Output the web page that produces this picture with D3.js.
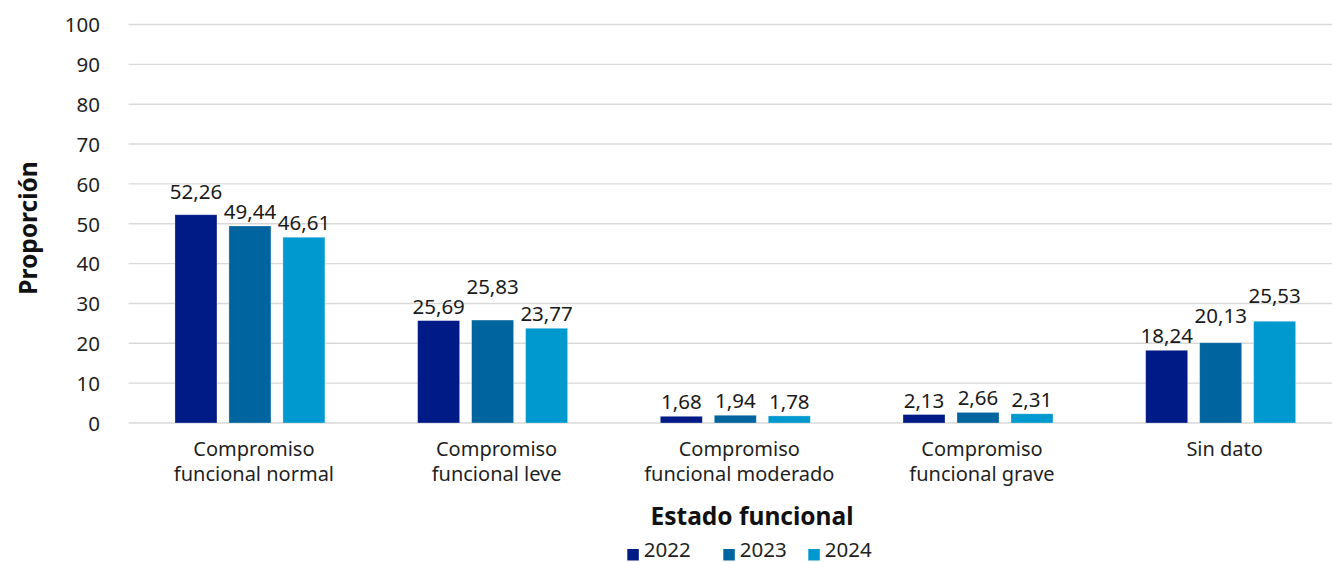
<!DOCTYPE html>
<html>
<head>
<meta charset="utf-8">
<script src="https://cdn.jsdelivr.net/npm/d3@7"></script>
<style>
  html, body { margin: 0; padding: 0; background: #fff; }
  svg { display: block; font-family: "Noto Sans", "Open Sans", sans-serif; }
</style>
</head>
<body>
<svg id="chart" width="1332" height="562"></svg>
<script>
const categories = [
  ["Compromiso", "funcional normal"],
  ["Compromiso", "funcional leve"],
  ["Compromiso", "funcional moderado"],
  ["Compromiso", "funcional grave"],
  ["Sin dato"]
];
const seriesNames = ["2022", "2023", "2024"];
const values2022 = [52.26, 25.69, 1.68, 2.13, 18.24];
const values2023 = [49.44, 25.83, 1.94, 2.66, 20.13];
const values2024 = [46.61, 23.77, 1.78, 2.31, 25.53];
const yTicks = [0, 10, 20, 30, 40, 50, 60, 70, 80, 90, 100];
const colors = ["#001a86", "#00659e", "#0099cf"];
const yTitle = "Proporción";
const xTitle = "Estado funcional";

const seriesValues = [values2022, values2023, values2024];
const svg = d3.select("#chart");

const plot = { left: 128.6, right: 1342, top: 24.5, bottom: 423 };
const catKeys = categories.map((c, i) => i);

const x0 = d3.scaleBand().domain(catKeys).range([plot.left, plot.right])
  .paddingInner(0.3327).paddingOuter(0.3327 / 2);
const x1 = d3.scaleBand().domain(seriesNames).range([0, x0.bandwidth()])
  .paddingInner(0.222).paddingOuter(0.111);
const y = d3.scaleLinear().domain([0, 100]).range([plot.bottom, plot.top]);

// gridlines
svg.append("g").selectAll("line").data(yTicks).join("line")
  .attr("x1", plot.left).attr("x2", plot.right)
  .attr("y1", d => y(d)).attr("y2", d => y(d))
  .attr("stroke", "#d9d9d9").attr("stroke-width", 1.4);

// y axis labels
const yAxis = d3.axisLeft(y).tickValues(yTicks).tickSize(0).tickPadding(0)
  .tickFormat(d3.format("d"));
const yg = svg.append("g").attr("transform", `translate(${100},0)`).call(yAxis);
yg.select(".domain").remove();
yg.selectAll("text").attr("font-size", 20.5).attr("fill", "#1f1f1f")
  .attr("font-family", '"Noto Sans", sans-serif').attr("dy", "0.36em");

// bars
const groups = svg.append("g").selectAll("g").data(catKeys).join("g")
  .attr("transform", d => `translate(${x0(d)},0)`);

groups.selectAll("rect")
  .data(ci => seriesNames.map((s, si) => ({ s, si, v: seriesValues[si][ci] })))
  .join("rect")
  .attr("x", d => x1(d.s))
  .attr("width", x1.bandwidth())
  .attr("y", d => y(d.v))
  .attr("height", d => y(0) - y(d.v))
  .attr("fill", d => colors[d.si])
  .attr("stroke", "#ffffff").attr("stroke-opacity", 0.35).attr("stroke-width", 0.8);

// data labels with simple collision avoidance (left to right, lower label stays fixed)
const fmt = v => d3.format(".2f")(v).replace(".", ",");
const gap = 7;
catKeys.forEach(ci => {
  const g = groups.filter(d => d === ci);
  const labels = seriesNames.map((s, si) => {
    const v = seriesValues[si][ci];
    const t = g.append("text")
      .attr("x", x1(s) + x1.bandwidth() / 2)
      .attr("text-anchor", "middle")
      .attr("font-size", 20.5).attr("fill", "#1a1a1a")
      .text(fmt(v));
    const w = t.node().getComputedTextLength() + 4;
    return { t, v, cx: x1(s) + x1.bandwidth() / 2, w, base: y(v) - gap, locked: false };
  });
  for (let i = 1; i < labels.length; i++) {
    const a = labels[i - 1], b = labels[i];
    const hOverlap = (a.cx + a.w / 2) > (b.cx - b.w / 2);
    const vOverlap = Math.abs(a.base - b.base) < 12.5;
    if (hOverlap && vOverlap) {
      const hi = a.base <= b.base ? a : b;
      const lo = hi === a ? b : a;
      if (!hi.locked) {
        hi.base = lo.base - 20;
        lo.locked = true;
      }
    }
  }
  labels.forEach(l => l.t.attr("y", l.base));
});

// x category labels
const xg = svg.append("g");
catKeys.forEach(ci => {
  const cx = x0(ci) + x0.bandwidth() / 2 + 4;
  const t = xg.append("text").attr("text-anchor", "middle")
    .attr("font-size", 20).attr("fill", "#1f1f1f");
  categories[ci].forEach((line, li) => {
    t.append("tspan").attr("x", cx).attr("y", 456 + li * 25).text(line);
  });
});

// axis titles
svg.append("text")
  .attr("transform", `translate(37,${228}) rotate(-90)`)
  .attr("text-anchor", "middle")
  .attr("font-size", 24.5).attr("font-weight", 700).attr("fill", "#111")
  .text(yTitle);

svg.append("text")
  .attr("x", 752).attr("y", 525)
  .attr("text-anchor", "middle")
  .attr("font-size", 24.5).attr("font-weight", 700).attr("fill", "#111")
  .text(xTitle);

// legend
const legendX = [627.3, 723.3, 808.3];
const lg = svg.append("g");
seriesNames.forEach((s, si) => {
  lg.append("rect").attr("x", legendX[si]).attr("y", 549)
    .attr("width", 11.5).attr("height", 11.5).attr("fill", colors[si]);
  lg.append("text").attr("x", legendX[si] + 16.5).attr("y", 556.5)
    .attr("font-size", 20.5).attr("fill", "#1f1f1f").text(s);
});
</script>
</body>
</html>
